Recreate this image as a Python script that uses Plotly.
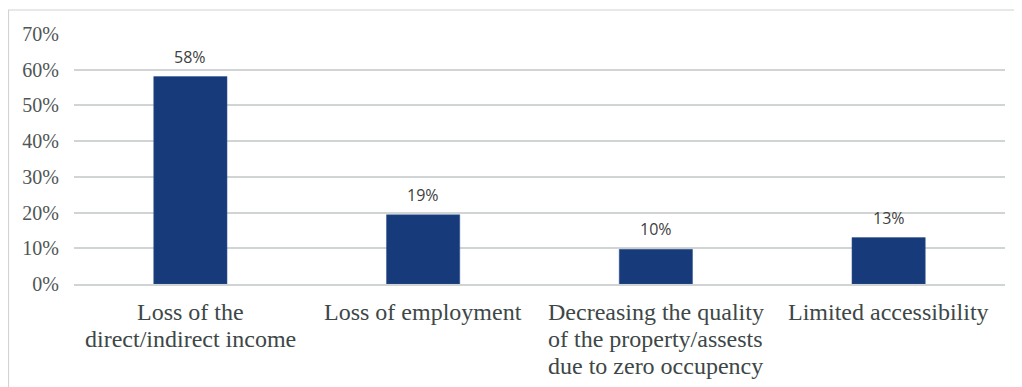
import plotly.graph_objects as go

categories = [
    "Loss of the<br>direct/indirect income",
    "Loss of employment",
    "Decreasing the quality<br>of the property/assests<br>due to zero occupency",
    "Limited accessibility",
]
values = [0.581, 0.194, 0.097, 0.13]
y_ticks = [0, 0.1, 0.2, 0.3, 0.4, 0.5, 0.6, 0.7]

# page body has an 8px margin, so the figure sits at (8, 8)
W, H = 1014, 379
L, R, T, B = 66, 17, 26, 103

fig = go.Figure()
fig.add_trace(go.Bar(
    x=categories, y=values,
    marker=dict(color="#163A7A", line=dict(color="#3a5a94", width=0.5)),
    width=0.315,
    hoverinfo="skip",
))

for c, v in zip(categories, values):
    fig.add_annotation(
        x=c, y=v, text=f"{round(v*100)}%", showarrow=False,
        yshift=20, font=dict(family="Open Sans, sans-serif", size=16, color="#404040"),
    )

# category labels, one annotation per line for tight line spacing
for c in categories:
    for i, line in enumerate(c.split("<br>")):
        fig.add_annotation(
            x=c, xref="x", y=0, yref="paper", yanchor="middle",
            text=line, showarrow=False, yshift=-28 - 27 * i,
            font=dict(family="Liberation Serif, Times New Roman, serif", size=24, color="#3d4747"),
        )

pw = W - L - R
ph = H - T - B
fig.add_shape(type="rect", xref="paper", yref="paper",
              x0=(0.5 - L) / pw, x1=1.05, y0=-0.6, y1=(H - B - 2) / ph,
              line=dict(color="#d0d4d4", width=1.2), fillcolor="rgba(0,0,0,0)", layer="below")

fig.update_layout(
    width=W, height=H,
    margin=dict(l=L, r=R, t=T, b=B),
    paper_bgcolor="white", plot_bgcolor="white",
    showlegend=False,
    xaxis=dict(
        showline=True, linecolor="#d0d4d4", linewidth=1.5,
        showticklabels=False, ticks="", showgrid=False,
    ),
    yaxis=dict(
        range=[0, 0.7], tickvals=y_ticks, tickformat=".0%",
        showgrid=True, gridcolor="#d0d4d4", gridwidth=1.5,
        zeroline=False, showline=False, ticks="",
        ticklabelstandoff=14,
        tickfont=dict(family="Liberation Serif, Times New Roman, serif", size=20, color="#505555"),
    ),
)

fig.write_html("out.html")
